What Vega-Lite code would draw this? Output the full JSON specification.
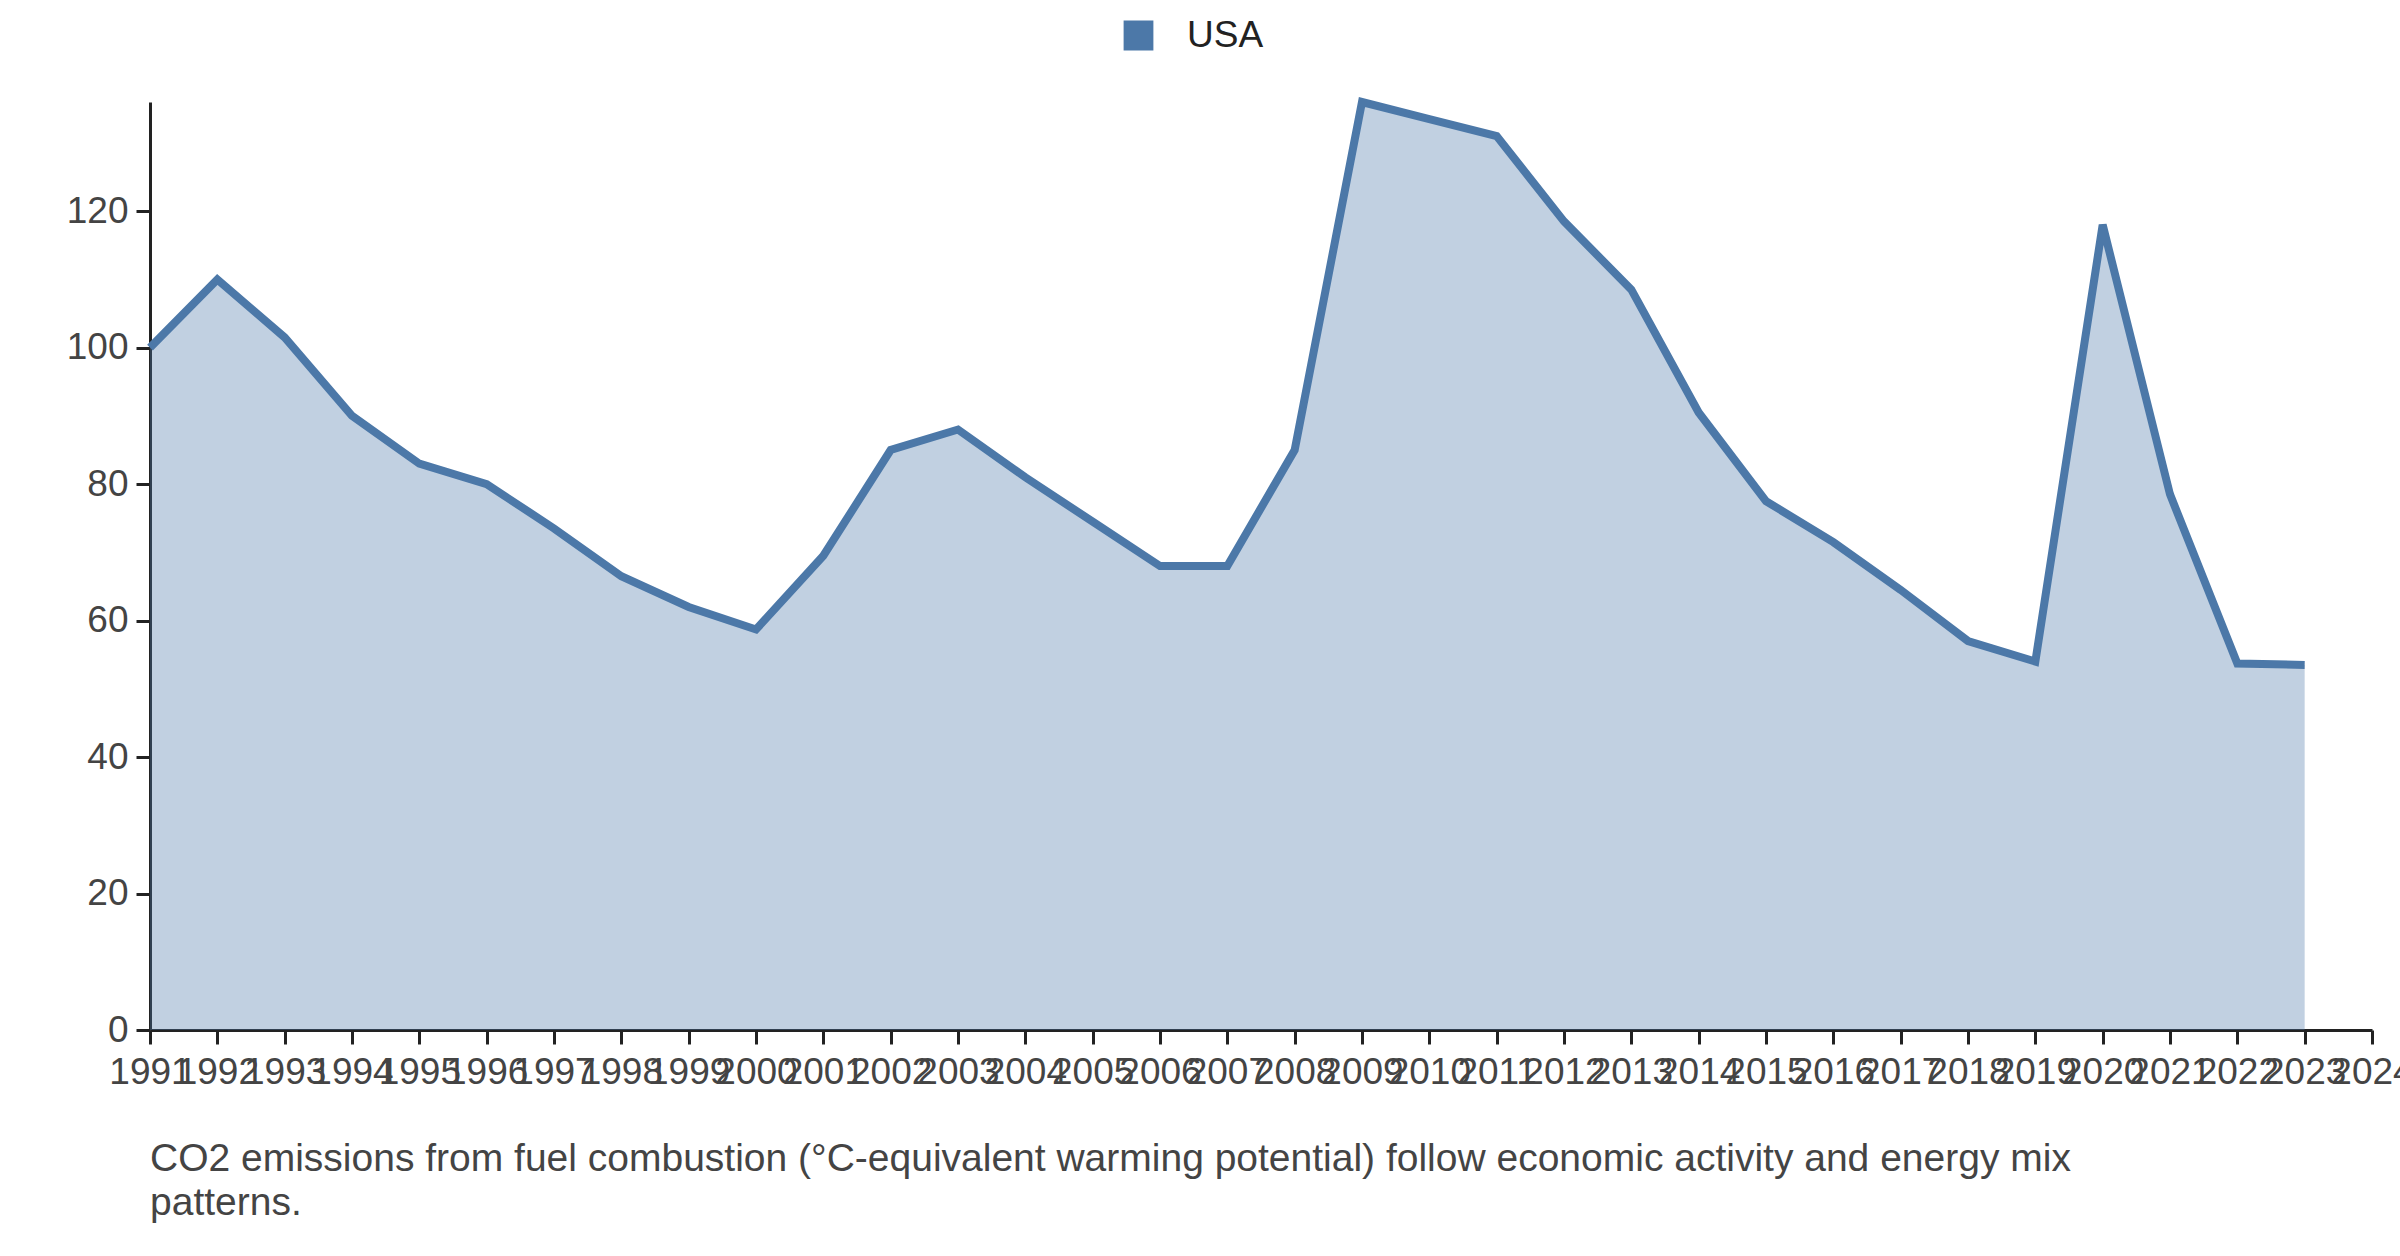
{
  "$schema": "https://vega.github.io/schema/vega-lite/v6.json",
  "width": 2222,
  "height": 928,
  "autosize": {"type": "none"},
  "padding": {"left": 150, "top": 102, "right": 28, "bottom": 226},
  "background": "white",
  "config": {
    "view": {"stroke": null},
    "font": "Liberation Sans",
    "axis": {"grid": false, "domainColor": "#222", "tickColor": "#222", "domainWidth": 3, "tickWidth": 3, "tickSize": 14, "labelFontSize": 37, "labelColor": "#444", "titleFontSize": 37}
  },
  "title": {
    "text": ["CO2 emissions from fuel combustion (°C-equivalent warming potential) follow economic activity and energy mix", "patterns."],
    "orient": "bottom",
    "anchor": "start",
    "frame": "group",
    "fontSize": 39,
    "fontWeight": "normal",
    "color": "#444",
    "offset": 50,
    "lineHeight": 44
  },
  "data": {
    "values": [
      {"year": 1991, "value": 100, "series": "USA"},
      {"year": 1992, "value": 110, "series": "USA"},
      {"year": 1993, "value": 101.5, "series": "USA"},
      {"year": 1994, "value": 90, "series": "USA"},
      {"year": 1995, "value": 83, "series": "USA"},
      {"year": 1996, "value": 80, "series": "USA"},
      {"year": 1997, "value": 73.5, "series": "USA"},
      {"year": 1998, "value": 66.5, "series": "USA"},
      {"year": 1999, "value": 62, "series": "USA"},
      {"year": 2000, "value": 58.7, "series": "USA"},
      {"year": 2001, "value": 69.5, "series": "USA"},
      {"year": 2002, "value": 85, "series": "USA"},
      {"year": 2003, "value": 88, "series": "USA"},
      {"year": 2004, "value": 81, "series": "USA"},
      {"year": 2005, "value": 74.5, "series": "USA"},
      {"year": 2006, "value": 68, "series": "USA"},
      {"year": 2007, "value": 68, "series": "USA"},
      {"year": 2008, "value": 85, "series": "USA"},
      {"year": 2009, "value": 136, "series": "USA"},
      {"year": 2010, "value": 133.5, "series": "USA"},
      {"year": 2011, "value": 131, "series": "USA"},
      {"year": 2012, "value": 118.5, "series": "USA"},
      {"year": 2013, "value": 108.5, "series": "USA"},
      {"year": 2014, "value": 90.5, "series": "USA"},
      {"year": 2015, "value": 77.5, "series": "USA"},
      {"year": 2016, "value": 71.5, "series": "USA"},
      {"year": 2017, "value": 64.5, "series": "USA"},
      {"year": 2018, "value": 57, "series": "USA"},
      {"year": 2019, "value": 54, "series": "USA"},
      {"year": 2020, "value": 118, "series": "USA"},
      {"year": 2021, "value": 78.5, "series": "USA"},
      {"year": 2022, "value": 53.7, "series": "USA"},
      {"year": 2023, "value": 53.5, "series": "USA"}
    ]
  },
  "encoding": {
    "x": {
      "field": "year", "type": "quantitative", "title": null,
      "scale": {"domain": [1991, 2024], "nice": false, "zero": false},
      "axis": {"values": [1991,1992,1993,1994,1995,1996,1997,1998,1999,2000,2001,2002,2003,2004,2005,2006,2007,2008,2009,2010,2011,2012,2013,2014,2015,2016,2017,2018,2019,2020,2021,2022,2023,2024], "format": "d", "labelOverlap": false, "labelFlush": false, "labelPadding": 10}
    },
    "y": {
      "field": "value", "type": "quantitative", "title": null,
      "scale": {"domain": [0, 136], "nice": false},
      "axis": {"values": [0, 20, 40, 60, 80, 100, 120], "labelPadding": 8}
    },
    "color": {
      "field": "series", "type": "nominal", "title": null,
      "scale": {"range": ["#4c78a8"]},
      "legend": {"orient": "none", "legendX": 970, "legendY": -85, "symbolType": "square", "symbolSize": 800, "symbolOpacity": 1, "symbolFillColor": "#4c78a8", "labelFontSize": 37, "labelColor": "#222", "labelOffset": 30}
    }
  },
  "layer": [
    {"mark": {"type": "area", "opacity": 0.35}},
    {"mark": {"type": "line", "strokeWidth": 8}}
  ]
}
